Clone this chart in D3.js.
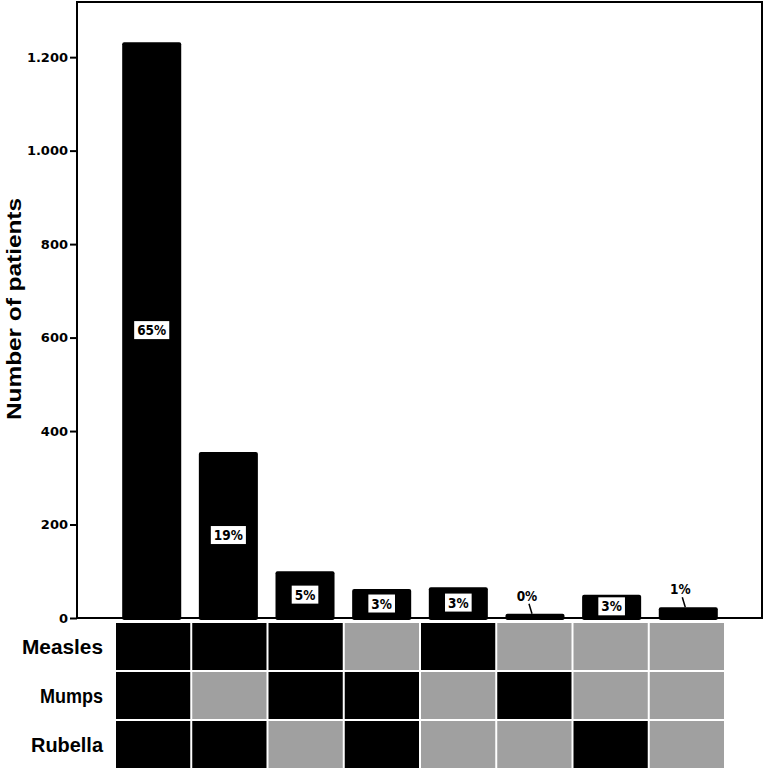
<!DOCTYPE html>
<html>
<head>
<meta charset="utf-8">
<script src="https://cdn.jsdelivr.net/npm/d3@7"></script>
<style>
  body { margin: 0; background: #fff; }
  svg { display: block; }
</style>
</head>
<body>
<svg id="chart" width="766" height="770"></svg>
<script>
// vaccine combination groups (one bar per column of the grid below)
var groups = ["MMR", "M+R", "M+Mu", "Mu+R", "M", "Mu", "R", "none"];
var patients = [1232, 355, 100, 62, 66, 9, 50, 23];
var pctLabels = ["65%", "19%", "5%", "3%", "3%", "0%", "3%", "1%"];

// 1 = black cell, 0 = grey cell
var rowNames = ["Measles", "Mumps", "Rubella"];
var measles = [1, 1, 1, 0, 1, 0, 0, 0];
var mumps   = [1, 0, 1, 1, 0, 1, 0, 0];
var rubella = [1, 1, 0, 1, 0, 0, 1, 0];

var yTicks = [0, 200, 400, 600, 800, 1000, 1200];

var W = 766, H = 770;
var LEFT = 77, RIGHT = 762, TOP = 2, BASE = 618;
var svg = d3.select("#chart");

var x = d3.scaleBand()
    .domain(groups)
    .range([113, 727])
    .paddingInner(0.23)
    .paddingOuter(0.12);

var xGrid = d3.scaleBand()
    .domain(groups)
    .range([115, 725]);

var y = d3.scaleLinear()
    .domain([0, 1318])
    .range([BASE, TOP]);

var fmt = d3.formatLocale({decimal: ",", thousands: ".", grouping: [3], currency: ["", ""]}).format(",d");

// frame
svg.append("rect")
    .attr("x", LEFT)
    .attr("y", TOP)
    .attr("width", RIGHT - LEFT)
    .attr("height", BASE - TOP)
    .style("fill", "none")
    .style("stroke", "#000")
    .style("stroke-width", 2);

// bars
svg.selectAll("rect.bar")
    .data(patients)
    .enter().append("rect")
    .attr("class", "bar")
    .attr("x", function(d, i) { return x(groups[i]); })
    .attr("y", function(d) { return y(d); })
    .attr("width", x.bandwidth())
    .attr("height", function(d) { return BASE - y(d) + 2; })
    .attr("rx", 2)
    .style("fill", "#000");

// baseline over the bars
svg.append("line")
    .attr("x1", LEFT).attr("x2", RIGHT)
    .attr("y1", BASE).attr("y2", BASE)
    .style("stroke", "#000")
    .style("stroke-width", 2);

// y axis
var yAxis = d3.axisLeft(y)
    .tickValues(yTicks)
    .tickSize(7)
    .tickFormat(fmt);

var ax = svg.append("g")
    .attr("transform", "translate(" + LEFT + ",0)")
    .call(yAxis);
ax.select(".domain").remove();
ax.selectAll(".tick line").style("stroke", "#000").style("stroke-width", 2);
ax.selectAll(".tick text")
    .attr("x", -9)
    .style("font-family", "'DejaVu Sans', sans-serif")
    .style("font-weight", "bold")
    .style("font-size", "13px")
    .style("fill", "#000");

svg.append("text")
    .attr("transform", "translate(21," + 309 + ") rotate(-90)")
    .attr("text-anchor", "middle")
    .attr("textLength", 222)
    .attr("lengthAdjust", "spacingAndGlyphs")
    .style("font-family", "'Liberation Sans', Arial, sans-serif")
    .style("font-weight", "bold")
    .style("font-size", "21px")
    .text("Number of patients");

// percent labels
var labels = svg.selectAll("g.pct")
    .data(patients)
    .enter().append("g")
    .attr("class", "pct");

labels.each(function(d, i) {
    var g = d3.select(this);
    var cx = x(groups[i]) + x.bandwidth() / 2;
    var small = d < 30;
    var ly = small ? y(d) - 18 : (y(d) + BASE) / 2;
    var lx = small ? cx - 8 : cx;
    var t = g.append("text")
        .attr("x", lx)
        .attr("y", ly)
        .attr("text-anchor", "middle")
        .attr("dominant-baseline", "central")
        .style("font-family", "'DejaVu Sans Condensed', 'DejaVu Sans', sans-serif")
        .style("font-weight", "bold")
        .style("font-size", "13.5px")
        .style("fill", "#000")
        .text(pctLabels[i]);
    if (!small) {
        var bb = t.node().getBBox();
        g.insert("rect", "text")
            .attr("x", bb.x - 3)
            .attr("y", bb.y - 1)
            .attr("width", bb.width + 6)
            .attr("height", bb.height + 2)
            .style("fill", "#fff");
    } else {
        g.append("line")
            .attr("x1", lx + 2).attr("y1", ly + 8)
            .attr("x2", lx + 5).attr("y2", y(d))
            .style("stroke", "#000")
            .style("stroke-width", 1.5);
    }
});

// combination grid
var rows = [measles, mumps, rubella];
var yRow = d3.scaleBand()
    .domain(rowNames)
    .range([622, 769]);

rows.forEach(function(r, ri) {
    svg.selectAll("rect.cell" + ri)
        .data(r)
        .enter().append("rect")
        .attr("x", function(d, i) { return xGrid(groups[i]) + 1; })
        .attr("y", yRow(rowNames[ri]) + 1)
        .attr("width", xGrid.bandwidth() - 2)
        .attr("height", yRow.bandwidth() - 2)
        .style("fill", function(d) { return d ? "#000" : "#a0a0a0"; });
});

var rowLen = {"Measles": 81, "Mumps": 63, "Rubella": 72};
svg.selectAll("text.row")
    .data(rowNames)
    .enter().append("text")
    .attr("class", "row")
    .attr("x", 103)
    .attr("y", function(d) { return yRow(d) + yRow.bandwidth() / 2; })
    .attr("text-anchor", "end")
    .attr("dominant-baseline", "central")
    .attr("textLength", function(d) { return rowLen[d]; })
    .attr("lengthAdjust", "spacingAndGlyphs")
    .style("font-family", "'Liberation Sans', Arial, sans-serif")
    .style("font-weight", "bold")
    .style("font-size", "21px")
    .text(function(d) { return d; });
</script>
</body>
</html>
